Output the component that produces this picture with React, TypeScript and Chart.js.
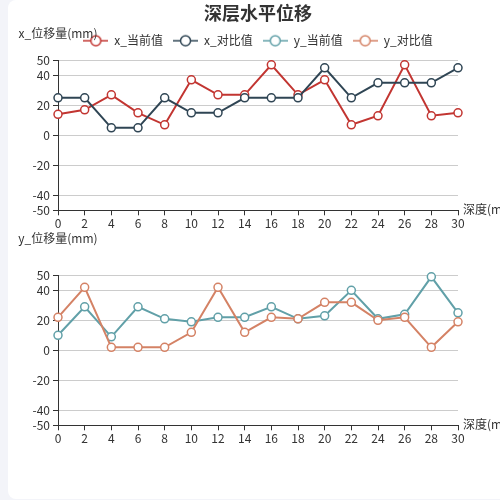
import React, { useEffect, useRef } from 'react';
import { Chart, registerables } from 'chart.js';

Chart.register(...registerables);

const FONT = '"Noto Sans CJK SC", "Noto Sans", sans-serif';
Chart.defaults.font.family = FONT;

// ---- data ----
const depths = [0, 2, 4, 6, 8, 10, 12, 14, 16, 18, 20, 22, 24, 26, 28, 30];
const xCurrent = [14, 17, 27, 15, 7, 37, 27, 27, 47, 27, 37, 7, 13, 47, 13, 15];
const xCompare = [25, 25, 5, 5, 25, 15, 15, 25, 25, 25, 45, 25, 35, 35, 35, 45];
const yCurrent = [10, 29, 9, 29, 21, 19, 22, 22, 29, 21, 23, 40, 21, 24, 49, 25];
const yCompare = [22, 42, 2, 2, 2, 12, 42, 12, 22, 21, 32, 32, 20, 22, 2, 19];
const yTickValues = [-50, -40, -20, 0, 20, 40, 50];

const seriesNames = ['x_当前值', 'x_对比值', 'y_当前值', 'y_对比值'];
const seriesColors = ['#c23531', '#2f4554', '#61a0a8', '#d48265'];

const titleText = '深层水平位移';
const xAxisName = '深度(m)';
const yNames = ['x_位移量(mm)', 'y_位移量(mm)'];

function makeIcon(color: string) {
  const c = document.createElement('canvas');
  c.width = 25;
  c.height = 14;
  const g = c.getContext('2d')!;
  g.strokeStyle = color;
  g.lineWidth = 2;
  g.globalAlpha = 0.75;
  g.beginPath();
  g.moveTo(0, 7);
  g.lineTo(25, 7);
  g.stroke();
  g.globalAlpha = 1;
  g.beginPath();
  g.arc(12.5, 7, 5, 0, Math.PI * 2);
  g.fillStyle = '#fff';
  g.fill();
  g.lineWidth = 1.5;
  g.stroke();
  return c;
}

function series(label: string, data: number[], color: string, order: number) {
  return {
    label,
    data: depths.map((d, i) => ({ x: d, y: data[i] })),
    borderColor: color,
    backgroundColor: color,
    borderWidth: 2,
    pointRadius: 4,
    pointBorderWidth: 1.5,
    pointBackgroundColor: '#fff',
    pointBorderColor: color,
    tension: 0,
    clip: false as const,
    order,
    yAxisID: 'y',
  };
}

function axisNamePlugin(yName: string, yGap: number) {
  return {
    id: 'axisNames',
    afterDraw(chart: any) {
      const { ctx, chartArea } = chart;
      ctx.save();
      ctx.font = `12px ${FONT}`;
      ctx.fillStyle = '#333';
      ctx.textBaseline = 'middle';
      ctx.textAlign = 'center';
      ctx.fillText(yName, chartArea.left, chartArea.top - yGap);
      ctx.textAlign = 'left';
      ctx.fillText(xAxisName, chartArea.right + 5, chartArea.bottom - 1);
      ctx.restore();
    },
  };
}

const legendSpacer = {
  id: 'legendSpacer',
  beforeLayout(chart: any) {
    const lg = chart.legend;
    if (lg && !lg._spaced) {
      const orig = lg.fit;
      lg.fit = function () {
        orig.call(this);
        this.height += 3.6;
      };
      lg._spaced = true;
    }
  },
};

function scales(xHeight: number) {
  return {
    x: {
      type: 'linear' as const,
      min: 0,
      max: 30,
      afterBuildTicks: (s: any) => {
        s.ticks = depths.map((v) => ({ value: v }));
      },
      afterFit: (s: any) => {
        s.height = xHeight;
      },
      grid: { drawOnChartArea: false, drawTicks: true, tickLength: 5, tickColor: '#333', tickWidth: 1 },
      border: { color: '#333', width: 1 },
      ticks: { color: '#333', font: { size: 12 }, padding: 1, maxRotation: 0, autoSkip: false },
    },
    y: {
      type: 'linear' as const,
      position: 'left' as const,
      min: -50,
      max: 50,
      afterBuildTicks: (s: any) => {
        s.ticks = yTickValues.map((v) => ({ value: v }));
      },
      afterFit: (s: any) => {
        s.width = 50;
      },
      grid: { color: '#ccc', drawTicks: true, tickLength: 5, tickColor: '#333', lineWidth: 1 },
      border: { color: '#333', width: 1 },
      ticks: { color: '#333', font: { size: 12 }, padding: 3, autoSkip: false },
    },
    yR: {
      type: 'linear' as const,
      position: 'right' as const,
      min: -50,
      max: 50,
      afterFit: (s: any) => {
        s.width = 50;
      },
      grid: { display: false, drawOnChartArea: false },
      border: { display: false },
      ticks: { display: false },
    },
  };
}

export default function App() {
  const ref1 = useRef<HTMLCanvasElement>(null);
  const ref2 = useRef<HTMLCanvasElement>(null);

  useEffect(() => {
    const icons = seriesColors.map(makeIcon);
    const legendItems = seriesNames.map((name, i) => ({
      text: name,
      fillStyle: '#fff',
      strokeStyle: seriesColors[i],
      lineWidth: 1.5,
      pointStyle: icons[i],
      hidden: false,
      datasetIndex: i,
      fontColor: '#333',
    }));

    const c1 = new Chart(ref1.current!, {
      type: 'line',
      data: {
        datasets: [
          series(seriesNames[0], xCurrent, seriesColors[0], 1),
          series(seriesNames[1], xCompare, seriesColors[1], 0),
        ],
      },
      options: {
        responsive: false,
        animation: false,
        events: [],
        layout: { padding: { top: 0, left: 0, right: 0, bottom: 0 } },
        scales: scales(39.7),
        plugins: {
          title: {
            display: true,
            text: titleText,
            color: '#333',
            font: { size: 18, weight: 'bold', lineHeight: 1.2 },
            padding: { top: 2, bottom: 1.1 },
          },
          legend: {
            display: true,
            position: 'top',
            onClick: () => {},
            labels: {
              usePointStyle: true,
              pointStyleWidth: 25,
              color: '#333',
              font: { size: 12 },
              padding: 10,
              generateLabels: () => legendItems as any,
            },
          },
          tooltip: { enabled: false },
        },
      },
      plugins: [legendSpacer, axisNamePlugin(yNames[0], 26.5)],
    });

    const c2 = new Chart(ref2.current!, {
      type: 'line',
      data: {
        datasets: [
          series(seriesNames[2], yCurrent, seriesColors[2], 1),
          series(seriesNames[3], yCompare, seriesColors[3], 0),
        ],
      },
      options: {
        responsive: false,
        animation: false,
        events: [],
        layout: { padding: { top: 55.3, left: 0, right: 0, bottom: 0 } },
        scales: scales(74.7),
        plugins: {
          title: { display: false },
          legend: { display: false },
          tooltip: { enabled: false },
        },
      },
      plugins: [axisNamePlugin(yNames[1], 37)],
    });

    return () => {
      c1.destroy();
      c2.destroy();
    };
  }, []);

  return (
    <div style={{ position: 'fixed', left: 0, top: 0, right: 0, bottom: 0, overflow: 'hidden', background: '#f3f4f9' }}>
      <div
        style={{
          position: 'absolute',
          left: 8,
          top: 0,
          width: 500,
          height: 499,
          borderRadius: 8,
          background: '#fff',
          overflow: 'hidden',
        }}
      >
        <canvas ref={ref1} width={500} height={250} style={{ position: 'absolute', left: 0, top: 0, width: 500, height: 250 }} />
        <canvas ref={ref2} width={500} height={280} style={{ position: 'absolute', left: 0, top: 220, width: 500, height: 280 }} />
      </div>
    </div>
  );
}
